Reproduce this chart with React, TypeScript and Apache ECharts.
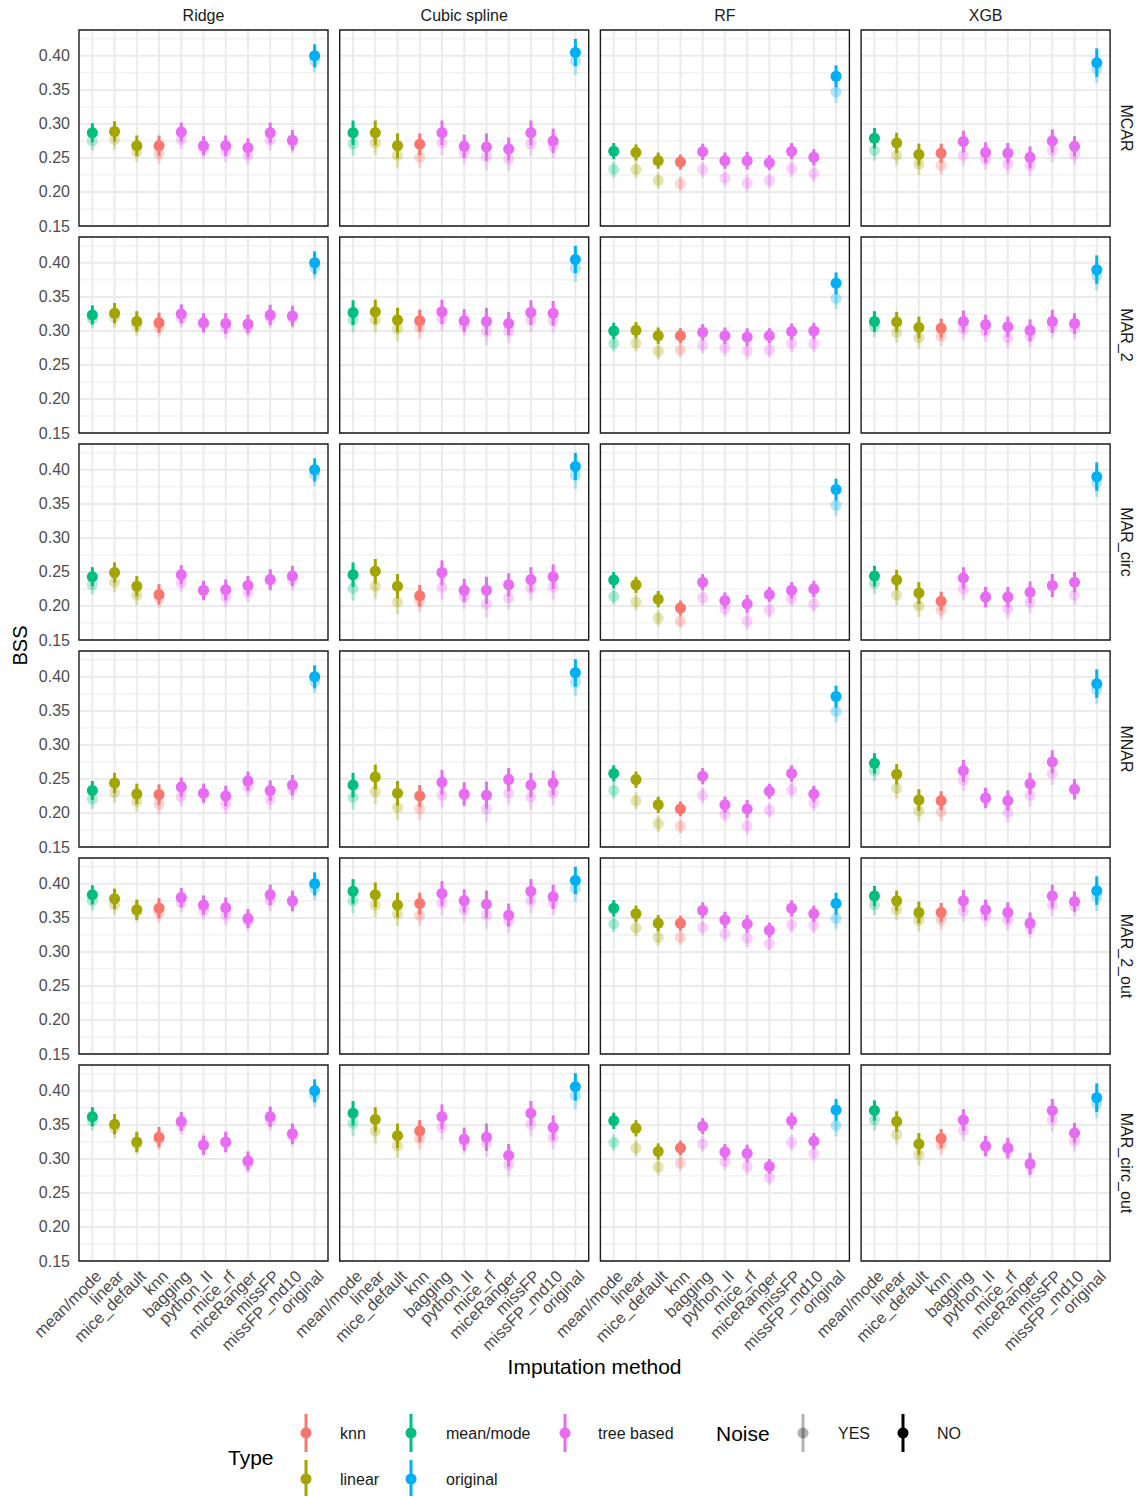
import React, { useEffect, useRef } from "react";
import * as echarts from "echarts";

const FONT = '"Liberation Sans", Arial, Helvetica, sans-serif';

const CATEGORIES = ["mean/mode", "linear", "mice_default", "knn", "bagging", "python_II", "mice_rf", "miceRanger", "missFP", "missFP_md10", "original"];
const CATEGORY_TYPE = ["mean/mode", "linear", "linear", "knn", "tree based", "tree based", "tree based", "tree based", "tree based", "tree based", "original"];
const TYPES = ["knn", "linear", "mean/mode", "original", "tree based"];
const TYPE_COLORS = ["#F8766D", "#A3A500", "#00BF7D", "#00B0F6", "#E76BF3"];
const MODELS = ["Ridge", "Cubic spline", "RF", "XGB"];
const MECHANISMS = ["MCAR", "MAR_2", "MAR_circ", "MNAR", "MAR_2_out", "MAR_circ_out"];
const NOISE_LEVELS = ["YES", "NO"];
const Y_TICKS = [0.15, 0.2, 0.25, 0.3, 0.35, 0.4];
const Y_MINOR = [0.175, 0.225, 0.275, 0.325, 0.375, 0.425];

// half-widths of the error bars, per model (Ridge, Cubic spline, RF, XGB)
const ERR_RIDGE = [0.014, 0.015, 0.015, 0.015, 0.014, 0.014, 0.015, 0.014, 0.015, 0.015, 0.017];
const ERR_CUBIC = [0.018, 0.018, 0.018, 0.016, 0.018, 0.017, 0.02, 0.017, 0.018, 0.018, 0.02];
const ERR_RF = [0.012, 0.012, 0.012, 0.011, 0.012, 0.012, 0.013, 0.011, 0.012, 0.012, 0.016];
const ERR_XGB = [0.015, 0.015, 0.016, 0.014, 0.016, 0.015, 0.015, 0.016, 0.017, 0.015, 0.021];

// values per mechanism: [Ridge, Cubic spline, RF, XGB]
const MCAR_NO = [
  [0.287, 0.289, 0.268, 0.268, 0.288, 0.268, 0.268, 0.265, 0.287, 0.276, 0.4],
  [0.287, 0.287, 0.268, 0.27, 0.287, 0.267, 0.266, 0.263, 0.287, 0.275, 0.405],
  [0.26, 0.258, 0.246, 0.244, 0.259, 0.246, 0.246, 0.243, 0.26, 0.251, 0.37],
  [0.279, 0.272, 0.255, 0.257, 0.274, 0.258, 0.257, 0.251, 0.275, 0.267, 0.39],
];
const MCAR_YES = [
  [0.275, 0.277, 0.259, 0.256, 0.277, 0.263, 0.259, 0.254, 0.276, 0.272, 0.393],
  [0.271, 0.272, 0.254, 0.251, 0.272, 0.257, 0.252, 0.248, 0.271, 0.267, 0.392],
  [0.233, 0.233, 0.217, 0.212, 0.233, 0.22, 0.213, 0.217, 0.234, 0.227, 0.347],
  [0.261, 0.254, 0.241, 0.239, 0.254, 0.248, 0.241, 0.239, 0.261, 0.255, 0.381],
];
const MAR2_NO = [
  [0.3235, 0.326, 0.314, 0.312, 0.325, 0.312, 0.311, 0.31, 0.3235, 0.322, 0.4],
  [0.327, 0.328, 0.316, 0.315, 0.328, 0.315, 0.314, 0.311, 0.327, 0.326, 0.405],
  [0.3, 0.301, 0.293, 0.293, 0.298, 0.293, 0.291, 0.293, 0.299, 0.3, 0.37],
  [0.314, 0.313, 0.305, 0.304, 0.314, 0.309, 0.306, 0.301, 0.314, 0.311, 0.39],
];
const MAR2_YES = [
  [0.318, 0.32, 0.308, 0.306, 0.319, 0.31, 0.304, 0.305, 0.319, 0.319, 0.393],
  [0.316, 0.316, 0.303, 0.305, 0.318, 0.309, 0.299, 0.299, 0.316, 0.315, 0.392],
  [0.282, 0.282, 0.27, 0.272, 0.279, 0.275, 0.271, 0.272, 0.281, 0.281, 0.348],
  [0.306, 0.298, 0.29, 0.292, 0.302, 0.299, 0.29, 0.292, 0.306, 0.303, 0.381],
];
const MARCIRC_NO = [
  [0.243, 0.249, 0.229, 0.217, 0.246, 0.223, 0.224, 0.23, 0.239, 0.244, 0.4],
  [0.246, 0.251, 0.229, 0.215, 0.249, 0.223, 0.223, 0.231, 0.239, 0.243, 0.405],
  [0.238, 0.231, 0.21, 0.197, 0.235, 0.208, 0.203, 0.217, 0.223, 0.225, 0.371],
  [0.244, 0.238, 0.219, 0.207, 0.241, 0.213, 0.213, 0.22, 0.23, 0.235, 0.39],
];
const MARCIRC_YES = [
  [0.231, 0.235, 0.216, 0.212, 0.234, 0.222, 0.213, 0.22, 0.237, 0.238, 0.393],
  [0.226, 0.229, 0.206, 0.207, 0.227, 0.213, 0.203, 0.212, 0.226, 0.228, 0.392],
  [0.214, 0.206, 0.182, 0.178, 0.212, 0.196, 0.178, 0.194, 0.211, 0.203, 0.348],
  [0.233, 0.216, 0.2, 0.194, 0.225, 0.213, 0.196, 0.205, 0.23, 0.216, 0.381],
];
const MNAR_NO = [
  [0.233, 0.244, 0.228, 0.227, 0.238, 0.229, 0.225, 0.247, 0.233, 0.241, 0.4],
  [0.241, 0.253, 0.229, 0.225, 0.245, 0.228, 0.226, 0.249, 0.241, 0.244, 0.406],
  [0.258, 0.249, 0.212, 0.206, 0.254, 0.212, 0.206, 0.232, 0.258, 0.228, 0.371],
  [0.273, 0.257, 0.219, 0.218, 0.262, 0.222, 0.218, 0.243, 0.275, 0.235, 0.39],
];
const MNAR_YES = [
  [0.22, 0.23, 0.217, 0.213, 0.224, 0.228, 0.213, 0.238, 0.22, 0.234, 0.393],
  [0.223, 0.231, 0.208, 0.206, 0.226, 0.226, 0.206, 0.229, 0.223, 0.229, 0.392],
  [0.233, 0.218, 0.184, 0.181, 0.226, 0.199, 0.181, 0.204, 0.234, 0.215, 0.349],
  [0.262, 0.236, 0.203, 0.202, 0.248, 0.222, 0.201, 0.226, 0.258, 0.235, 0.381],
];
const MAR2OUT_NO = [
  [0.384, 0.378, 0.362, 0.364, 0.38, 0.369, 0.365, 0.349, 0.384, 0.375, 0.4],
  [0.389, 0.384, 0.369, 0.371, 0.386, 0.375, 0.37, 0.354, 0.389, 0.381, 0.405],
  [0.364, 0.356, 0.342, 0.342, 0.361, 0.347, 0.341, 0.332, 0.364, 0.356, 0.371],
  [0.382, 0.375, 0.358, 0.358, 0.375, 0.362, 0.358, 0.342, 0.382, 0.374, 0.39],
];
const MAR2OUT_YES = [
  [0.375, 0.369, 0.359, 0.358, 0.372, 0.361, 0.354, 0.345, 0.375, 0.373, 0.393],
  [0.375, 0.369, 0.356, 0.354, 0.372, 0.362, 0.354, 0.345, 0.375, 0.372, 0.393],
  [0.341, 0.335, 0.321, 0.321, 0.336, 0.327, 0.32, 0.312, 0.34, 0.339, 0.349],
  [0.369, 0.362, 0.346, 0.347, 0.36, 0.352, 0.346, 0.336, 0.369, 0.367, 0.381],
];
const MARCIRCOUT_NO = [
  [0.362, 0.351, 0.325, 0.332, 0.355, 0.32, 0.325, 0.297, 0.362, 0.337, 0.4],
  [0.367, 0.358, 0.334, 0.341, 0.362, 0.329, 0.332, 0.305, 0.367, 0.346, 0.406],
  [0.356, 0.345, 0.311, 0.316, 0.348, 0.31, 0.308, 0.289, 0.356, 0.326, 0.372],
  [0.371, 0.355, 0.322, 0.33, 0.357, 0.319, 0.316, 0.293, 0.371, 0.338, 0.39],
];
const MARCIRCOUT_YES = [
  [0.356, 0.345, 0.322, 0.328, 0.35, 0.323, 0.324, 0.293, 0.356, 0.333, 0.393],
  [0.352, 0.341, 0.319, 0.33, 0.346, 0.325, 0.323, 0.291, 0.351, 0.332, 0.393],
  [0.324, 0.316, 0.288, 0.294, 0.322, 0.296, 0.289, 0.273, 0.324, 0.308, 0.349],
  [0.357, 0.336, 0.306, 0.32, 0.342, 0.318, 0.313, 0.289, 0.357, 0.326, 0.381],
];

const VALUES_NO = [MCAR_NO, MAR2_NO, MARCIRC_NO, MNAR_NO, MAR2OUT_NO, MARCIRCOUT_NO];
const VALUES_YES = [MCAR_YES, MAR2_YES, MARCIRC_YES, MNAR_YES, MAR2OUT_YES, MARCIRCOUT_YES];
const ERRORS = [ERR_RIDGE, ERR_CUBIC, ERR_RF, ERR_XGB];

// layout
const X_MIN = -0.6;
const X_MAX = 10.6;
const Y_MIN = 0.15;
const Y_MAX = 0.438;
const PANEL_LEFT = 79;
const PANEL_TOP = 30;
const PANEL_W = 249;
const PANEL_H = 196;
const COL_PITCH = 260.7;
const ROW_PITCH = 207;
const YES_OPACITY = 0.3;

function typeIndex(cat: number) {
  return TYPES.indexOf(CATEGORY_TYPE[cat]);
}

function buildOption() {
  const grids: any[] = [];
  const xAxes: any[] = [];
  const yAxes: any[] = [];
  const series: any[] = [];
  const graphics: any[] = [];

  MECHANISMS.forEach((mech, r) => {
    MODELS.forEach((model, c) => {
      const gi = r * MODELS.length + c;
      const left = PANEL_LEFT + c * COL_PITCH;
      const top = PANEL_TOP + r * ROW_PITCH;
      grids.push({ left, top, width: PANEL_W, height: PANEL_H, show: false, containLabel: false });
      xAxes.push({
        gridIndex: gi,
        type: "value",
        min: X_MIN,
        max: X_MAX,
        splitNumber: 11,
        minInterval: 1,
        maxInterval: 1,
        axisLine: { show: false },
        axisTick: { show: false },
        splitLine: { show: false },
        axisLabel: r === MECHANISMS.length - 1
          ? {
              show: true,
              rotate: 45,
              margin: 6,
              verticalAlign: "top",
              fontSize: 16.5,
              fontFamily: FONT,
              color: "#4D4D4D",
              formatter: (v: number) => {
                const k = Math.round(v);
                return Math.abs(v - k) < 1e-6 && k >= 0 && k < CATEGORIES.length ? CATEGORIES[k] : "";
              },
            }
          : { show: false },
      });
      yAxes.push({
        gridIndex: gi,
        type: "value",
        min: Y_MIN,
        max: Y_MAX,
        interval: 0.05,
        axisLine: { show: false },
        axisTick: { show: false },
        splitLine: { show: false },
        axisLabel: c === 0
          ? {
              show: true,
              margin: 9,
              fontSize: 16,
              fontFamily: FONT,
              color: "#4D4D4D",
              formatter: (v: number) => (v <= 0.4001 ? v.toFixed(2) : ""),
            }
          : { show: false },
      });

      // horizontal grid lines
      series.push({
        type: "custom",
        xAxisIndex: gi,
        yAxisIndex: gi,
        silent: true,
        z: 0,
        data: [...Y_MINOR.map((v) => [0, v, 0]), ...Y_TICKS.map((v) => [0, v, 1])],
        renderItem: (params: any, api: any) => {
          const y = api.value(1);
          const major = api.value(2) === 1;
          const p1 = api.coord([X_MIN, y]);
          const p2 = api.coord([X_MAX, y]);
          return {
            type: "line",
            shape: { x1: p1[0], y1: p1[1], x2: p2[0], y2: p2[1] },
            style: { stroke: "#EBEBEB", lineWidth: major ? 2 : 1 },
          };
        },
      });
      // vertical grid lines
      series.push({
        type: "custom",
        xAxisIndex: gi,
        yAxisIndex: gi,
        silent: true,
        z: 0,
        data: CATEGORIES.map((_, k) => [k, 0.3]),
        renderItem: (params: any, api: any) => {
          const x = api.value(0);
          const p1 = api.coord([x, Y_MIN]);
          const p2 = api.coord([x, Y_MAX]);
          return {
            type: "line",
            shape: { x1: p1[0], y1: p1[1], x2: p2[0], y2: p2[1] },
            style: { stroke: "#EBEBEB", lineWidth: 2 },
          };
        },
      });

      const pointRange = (vals: number[], opacity: number, name: string) => ({
        type: "custom",
        name,
        xAxisIndex: gi,
        yAxisIndex: gi,
        z: 2,
        data: vals.map((v, k) => [k, v, ERRORS[c][k], typeIndex(k)]),
        renderItem: (params: any, api: any) => {
          const x = api.value(0);
          const y = api.value(1);
          const e = api.value(2);
          const color = TYPE_COLORS[api.value(3)];
          const ctr = api.coord([x, y]);
          const lo = api.coord([x, y - e]);
          const hi = api.coord([x, y + e]);
          return {
            type: "group",
            children: [
              {
                type: "line",
                shape: { x1: ctr[0], y1: hi[1], x2: ctr[0], y2: lo[1] },
                style: { stroke: color, lineWidth: 3, opacity },
              },
              {
                type: "circle",
                shape: { cx: ctr[0], cy: ctr[1], r: 5.5 },
                style: { fill: color, opacity },
              },
            ],
          };
        },
      });
      series.push(pointRange(VALUES_YES[r][c], YES_OPACITY, NOISE_LEVELS[0]));
      series.push(pointRange(VALUES_NO[r][c], 1, NOISE_LEVELS[1]));

      // panel border
      graphics.push({
        type: "rect",
        z: 100,
        shape: { x: left, y: top, width: PANEL_W, height: PANEL_H },
        style: { fill: "none", stroke: "#1A1A1A", lineWidth: 1.4 },
        silent: true,
      });
      if (r === 0) {
        graphics.push({
          type: "text",
          x: left + PANEL_W / 2,
          y: 15,
          style: { text: model, fontSize: 16, fontFamily: FONT, fill: "#1A1A1A", textAlign: "center", textVerticalAlign: "middle" },
        });
      }
      if (c === MODELS.length - 1) {
        graphics.push({
          type: "text",
          x: 1126,
          y: top + PANEL_H / 2,
          rotation: -Math.PI / 2,
          style: { text: mech, fontSize: 16, fontFamily: FONT, fill: "#1A1A1A", textAlign: "center", textVerticalAlign: "middle" },
        });
      }
    });
  });

  // axis titles
  graphics.push({
    type: "text",
    x: 20,
    y: PANEL_TOP + (ROW_PITCH * (MECHANISMS.length - 1) + PANEL_H) / 2,
    rotation: Math.PI / 2,
    style: { text: "BSS", fontSize: 20, fontFamily: FONT, fill: "#000", textAlign: "center", textVerticalAlign: "middle" },
  });
  graphics.push({
    type: "text",
    x: PANEL_LEFT + (COL_PITCH * (MODELS.length - 1) + PANEL_W) / 2,
    y: 1366,
    style: { text: "Imputation method", fontSize: 21, fontFamily: FONT, fill: "#000", textAlign: "center", textVerticalAlign: "middle" },
  });

  // legend: Type
  const legendKey = (x: number, y: number, color: string, opacity: number) => [
    { type: "line", shape: { x1: x, y1: y - 19, x2: x, y2: y + 19 }, style: { stroke: color, lineWidth: 3, opacity } },
    { type: "circle", shape: { cx: x, cy: y, r: 5.5 }, style: { fill: color, opacity } },
  ];
  graphics.push({
    type: "text",
    x: 228,
    y: 1457,
    style: { text: "Type", fontSize: 21, fontFamily: FONT, fill: "#000", textAlign: "left", textVerticalAlign: "middle" },
  });
  const keyX = [306, 411, 565];
  const labX = [340, 446, 598];
  const rowY = [1433, 1479];
  TYPES.forEach((t, k) => {
    const col = Math.floor(k / 2);
    const row = k % 2;
    graphics.push(...legendKey(keyX[col], rowY[row], TYPE_COLORS[k], 1));
    graphics.push({
      type: "text",
      x: labX[col],
      y: rowY[row],
      style: { text: t, fontSize: 16, fontFamily: FONT, fill: "#1A1A1A", textAlign: "left", textVerticalAlign: "middle" },
    });
  });
  // legend: Noise
  graphics.push({
    type: "text",
    x: 716,
    y: 1433,
    style: { text: "Noise", fontSize: 21, fontFamily: FONT, fill: "#000", textAlign: "left", textVerticalAlign: "middle" },
  });
  const noiseKeyX = [803, 903];
  const noiseLabX = [838, 937];
  NOISE_LEVELS.forEach((n, k) => {
    graphics.push(...legendKey(noiseKeyX[k], 1433, "#000000", k === 0 ? YES_OPACITY : 1));
    graphics.push({
      type: "text",
      x: noiseLabX[k],
      y: 1433,
      style: { text: n, fontSize: 16, fontFamily: FONT, fill: "#1A1A1A", textAlign: "left", textVerticalAlign: "middle" },
    });
  });

  return {
    animation: false,
    backgroundColor: "#FFFFFF",
    grid: grids,
    xAxis: xAxes,
    yAxis: yAxes,
    series,
    graphic: { elements: graphics },
  };
}

export default function App() {
  const ref = useRef<HTMLDivElement>(null);
  useEffect(() => {
    if (!ref.current) return;
    const chart = echarts.init(ref.current, undefined, { renderer: "svg" });
    chart.setOption(buildOption() as any);
    return () => chart.dispose();
  }, []);
  return <div ref={ref} style={{ position: "absolute", left: 0, top: 0, width: 1142, height: 1496 }} />;
}
